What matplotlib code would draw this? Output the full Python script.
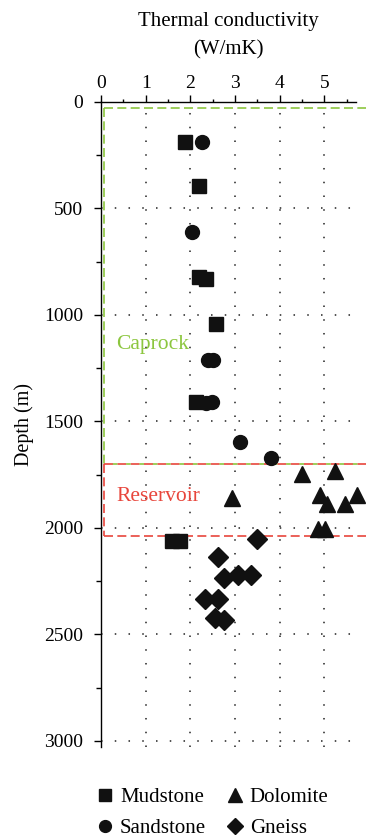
import matplotlib.pyplot as plt
from matplotlib.ticker import MultipleLocator

plt.rcParams['font.family'] = ['Liberation Serif', 'DejaVu Serif']

# thermal conductivity (W/mK) vs depth (m)
mud_k = [1.88, 2.19, 2.19, 2.34, 2.57, 2.13, 1.58, 1.77]
mud_d = [190, 396, 822, 832, 1045, 1408, 2060, 2060]

sand_k = [2.27, 2.04, 2.40, 2.51, 2.34, 2.49, 3.10, 3.80]
sand_d = [190, 613, 1213, 1213, 1416, 1408, 1598, 1671]

dolo_k = [4.50, 5.24, 2.92, 4.90, 5.05, 5.45, 5.72, 4.86, 5.01]
dolo_d = [1749, 1734, 1859, 1846, 1890, 1890, 1846, 2006, 2006]

gneiss_k = [3.50, 2.61, 2.75, 3.07, 3.36, 2.33, 2.62, 2.55, 2.75]
gneiss_d = [2050, 2136, 2235, 2222, 2222, 2336, 2336, 2425, 2430]

caprock_top, caprock_base = 30, 1700
reservoir_base = 2040
zone_left = 0.07

green = '#8cc63f'
red = '#e8463c'

fig = plt.figure(figsize=(3.66, 8.39), dpi=100)
ax = fig.add_axes([0.276, 0.1097, 0.696, 0.7691])

ax.set_xlim(0, 5.7)
ax.set_ylim(3028, 0)

ax.xaxis.set_ticks_position('top')
ax.xaxis.set_label_position('top')
ax.spines['right'].set_visible(False)
ax.spines['bottom'].set_visible(False)
for s in ['left', 'top']:
    ax.spines[s].set_linewidth(1.0)

ax.xaxis.set_major_locator(MultipleLocator(1))
ax.xaxis.set_minor_locator(MultipleLocator(0.5))
ax.yaxis.set_major_locator(MultipleLocator(500))
ax.yaxis.set_minor_locator(MultipleLocator(250))
ax.tick_params(axis='both', which='major', direction='out', length=5, width=1.0,
               labelsize=14)
ax.tick_params(axis='x', which='major', pad=2)
ax.tick_params(axis='y', which='major', pad=8)
ax.tick_params(axis='x', which='minor', direction='out', length=2.5, width=1.0)
ax.tick_params(axis='y', which='minor', direction='out', length=3.5, width=1.0)
ax.set_xticks([0, 1, 2, 3, 4, 5])

ax.grid(True, which='major', color='#222222', linestyle=(0, (1.0, 8.0)), linewidth=1.1)

ax.set_xlabel('Thermal conductivity\n(W/mK)', fontsize=15, labelpad=15, linespacing=1.6)
ax.set_ylabel('Depth (m)', fontsize=14.5, labelpad=7)

# zone outlines
kw = dict(linestyle=(0, (5.4, 2.6)), linewidth=1.2, clip_on=False)
ax.plot([zone_left, zone_left], [caprock_top, caprock_base], color=green, **kw)
ax.plot([zone_left, 6.2], [caprock_top, caprock_top], color=green, **kw)
ax.plot([zone_left, zone_left], [caprock_base, reservoir_base], color=red, **kw)
ax.plot([zone_left, 6.2], [reservoir_base, reservoir_base], color=red, **kw)
ax.plot([zone_left, 6.2], [caprock_base, caprock_base], color=red, **kw)
ax.plot([zone_left, 6.2], [caprock_base, caprock_base], color=green,
        linestyle=(2.7, (2.7, 5.3)), linewidth=1.2, clip_on=False)

ax.text(0.33, 1140, 'Caprock', color=green, fontsize=15.5, va='center')
ax.text(0.35, 1855, 'Reservoir', color=red, fontsize=15.5, va='center')

mk = dict(color='#111111', linestyle='none', clip_on=False, zorder=5)
ax.plot(mud_k, mud_d, marker='s', markersize=9.5, label='Mudstone', **mk)
ax.plot(sand_k, sand_d, marker='o', markersize=10, label='Sandstone', **mk)
ax.plot(dolo_k, dolo_d, marker='^', markersize=12, label='Dolomite', **mk)
ax.plot(gneiss_k, gneiss_d, marker='D', markersize=10, label='Gneiss', **mk)

ax.legend(loc='upper left', bbox_to_anchor=(-0.04, -0.05), ncol=2, frameon=False,
          fontsize=15, handlelength=0.6, handletextpad=0.4, columnspacing=1.1,
          labelspacing=0.55, markerscale=0.85, borderaxespad=0)

fig.savefig('out.png', dpi=100)
